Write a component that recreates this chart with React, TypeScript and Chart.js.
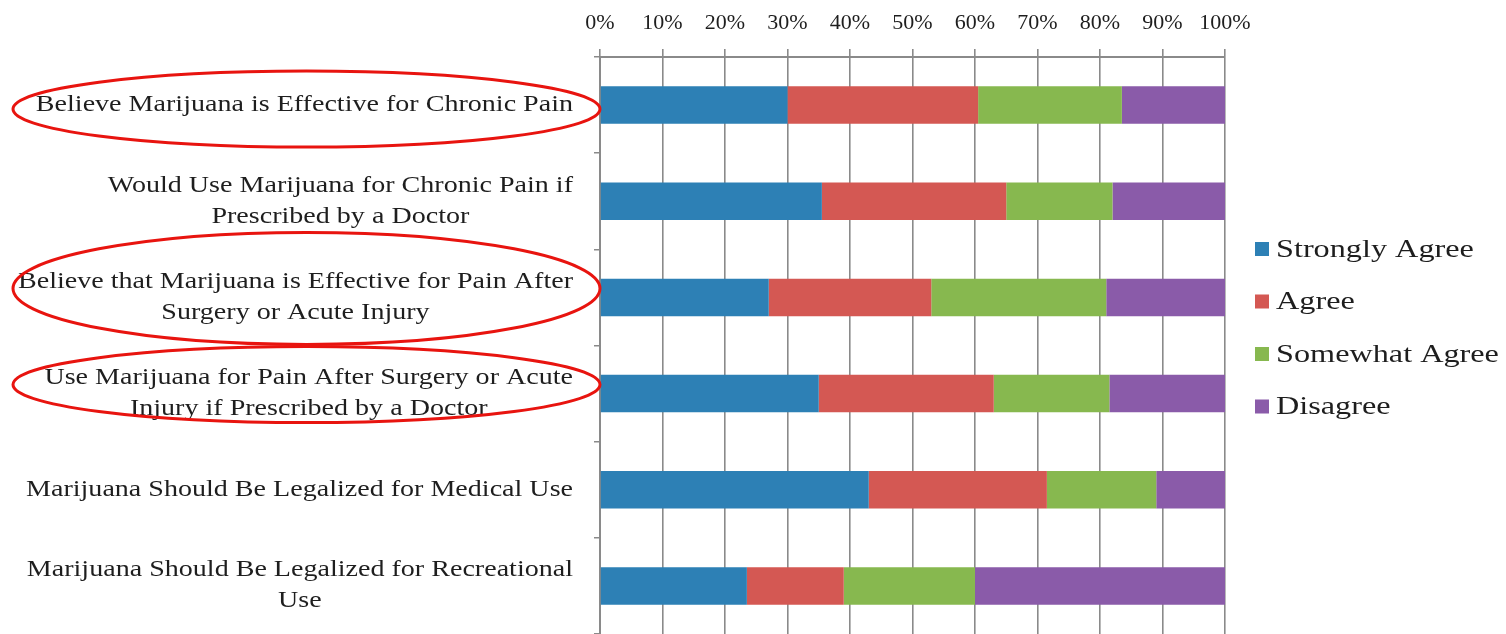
import { useEffect, useRef } from "react";
import { Chart, registerables } from "chart.js";

Chart.register(...registerables);

// Survey statements (multi-line labels are centred under each other)
const categories: string[][] = [
  ["Believe Marijuana is Effective for Chronic Pain"],
  ["Would Use Marijuana for Chronic Pain if", "Prescribed by a Doctor"],
  ["Believe that Marijuana is Effective for Pain After", "Surgery or Acute Injury"],
  ["Use Marijuana for Pain After Surgery or Acute", "Injury if Prescribed by a Doctor"],
  ["Marijuana Should Be Legalized for Medical Use"],
  ["Marijuana Should Be Legalized for Recreational", "Use"],
];

const seriesNames = ["Strongly Agree", "Agree", "Somewhat Agree", "Disagree"];
const seriesColors = ["#2d80b5", "#d45853", "#87b84f", "#8a5ba9"];

// Share of respondents (%) per statement
const stronglyAgree = [30, 35.5, 27, 35, 43, 23.5];
const agree = [30.5, 29.5, 26, 28, 28.5, 15.5];
const somewhatAgree = [23, 17, 28, 18.5, 17.5, 21];
const disagree = [16.5, 18, 19, 18.5, 11, 40];

const xTicks = [0, 10, 20, 30, 40, 50, 60, 70, 80, 90, 100];

// Statements highlighted with a red ring
const highlighted = [0, 2, 3];

const FONT = "'Liberation Serif', 'DejaVu Serif', serif";

// draws text horizontally widened by `sx`, centred or left-anchored at x
function wideText(ctx: CanvasRenderingContext2D, text: string, x: number, y: number, sx: number) {
  ctx.save();
  ctx.translate(x, y);
  ctx.scale(sx, 1);
  ctx.fillText(text, 0, 0);
  ctx.restore();
}

const labelPlugin = {
  id: "statementLabels",
  afterDraw(chart: any) {
    const { ctx, chartArea } = chart;
    const yScale = chart.scales.y;
    ctx.save();
    ctx.font = `23px ${FONT}`;
    ctx.fillStyle = "#1e1e1e";
    ctx.textBaseline = "middle";
    ctx.textAlign = "center";
    const sx = 1.22;
    const lineH = 31;
    const blockRight = chartArea.left - 27;
    categories.forEach((lines, i) => {
      const cy = yScale.getPixelForValue(i);
      const maxW = Math.max(...lines.map((l) => ctx.measureText(l).width)) * sx;
      const cx = blockRight - maxW / 2;
      const top = cy - ((lines.length - 1) * lineH) / 2;
      lines.forEach((l, k) => wideText(ctx, l, cx, top + k * lineH, sx));
    });

    // red rings round the highlighted statements
    ctx.strokeStyle = "#e8140f";
    ctx.lineWidth = 3;
    highlighted.forEach((i) => {
      const cy = yScale.getPixelForValue(i);
      const rx = (chartArea.left - 13) / 2;
      const cx = 13 + rx;
      const ry = categories[i].length > 1 && i === 2 ? 56 : 38;
      const oy = i === 0 ? 4 : -9;
      ctx.beginPath();
      ctx.ellipse(cx, cy + oy, rx, ry, 0, 0, Math.PI * 2);
      ctx.stroke();
    });

    // legend
    ctx.font = `26px ${FONT}`;
    ctx.textAlign = "left";
    const lx = chartArea.right + 30;
    const ly0 = 249;
    const step = 52.5;
    seriesNames.forEach((name, k) => {
      const y = ly0 + k * step;
      ctx.fillStyle = seriesColors[k];
      ctx.fillRect(lx, y - 7, 14, 14);
      ctx.fillStyle = "#1e1e1e";
      wideText(ctx, name, lx + 21, y + 1, 1.24);
    });
    ctx.restore();
  },
};

export default function App() {
  const ref = useRef<HTMLCanvasElement>(null);

  useEffect(() => {
    if (!ref.current) return;
    const seriesValues = [stronglyAgree, agree, somewhatAgree, disagree];
    const chart = new Chart(ref.current, {
      type: "bar",
      data: {
        labels: categories.map((c) => c.join(" ")),
        datasets: seriesNames.map((name, k) => ({
          label: name,
          data: seriesValues[k],
          backgroundColor: seriesColors[k],
          borderWidth: 0,
          categoryPercentage: 1,
          barPercentage: 0.39,
        })),
      },
      options: {
        indexAxis: "y",
        responsive: false,
        animation: false,
        layout: { padding: { left: 0, right: 281, top: 0, bottom: 0 } },
        plugins: { legend: { display: false }, tooltip: { enabled: false } },
        scales: {
          x: {
            position: "top",
            stacked: true,
            min: 0,
            max: 100,
            afterFit: (s: any) => {
              s.height = 57;
            },
            afterBuildTicks: (s: any) => {
              s.ticks = xTicks.map((v) => ({ value: v }));
            },
            ticks: {
              callback: (v: any) => `${v}%`,
              font: { family: FONT, size: 22 },
              color: "#1e1e1e",
              padding: 13,
              maxRotation: 0,
              autoSkip: false,
            },
            grid: { color: "#8a8a8a", lineWidth: 1.6, tickLength: 8 },
            border: { color: "#8a8a8a", width: 2 },
          },
          y: {
            stacked: true,
            afterFit: (s: any) => {
              s.width = 600;
            },
            ticks: { display: false },
            grid: {
              drawOnChartArea: false,
              color: "#8a8a8a",
              tickLength: 6,
              lineWidth: 1.5,
            },
            border: { color: "#8a8a8a", width: 2 },
          },
        },
      },
      plugins: [labelPlugin],
    });
    return () => chart.destroy();
  }, []);

  return (
    <div style={{ position: "fixed", left: 0, top: 0, width: 1506, height: 634, background: "#fff" }}>
      <canvas ref={ref} width={1506} height={634} />
    </div>
  );
}
